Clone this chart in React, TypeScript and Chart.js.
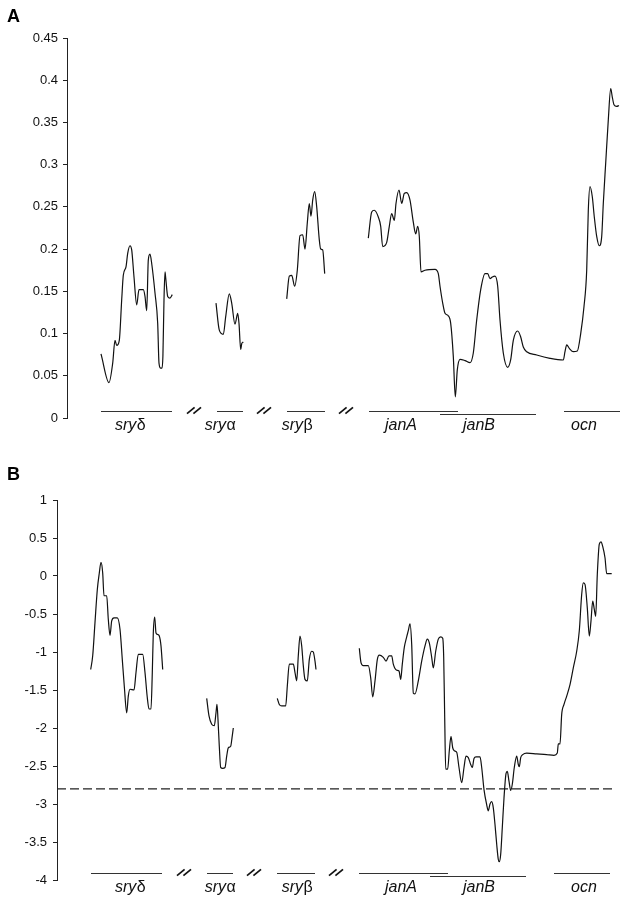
import React, { useEffect, useRef } from 'react';
import { Chart, registerables } from 'chart.js';

Chart.register(...registerables);

// ---------- Panel A : x = window position, y = value ----------
const aSryDelta: [number, number][] = [
  [34, 0.076], [42, 0.042], [45.7, 0.065], [48, 0.092], [49.7, 0.086], [52.3, 0.092], [54.7, 0.14],
  [56.3, 0.169], [59, 0.179], [60.7, 0.195], [63, 0.204], [64.7, 0.199], [67, 0.167], [69.7, 0.134],
  [72, 0.152], [76.3, 0.152], [78, 0.144], [79.7, 0.127], [81.3, 0.187], [83, 0.194], [84.7, 0.183],
  [88, 0.148], [90.7, 0.112], [92, 0.065], [93.7, 0.059], [95, 0.059], [95.9, 0.073], [97, 0.14],
  [98, 0.173], [98.7, 0.166], [100.7, 0.144], [103, 0.142], [105.3, 0.146],
];
const aSryAlpha: [number, number][] = [
  [149, 0.136], [152.3, 0.104], [156.3, 0.099], [158.7, 0.12], [162.3, 0.147], [164.7, 0.136],
  [168, 0.111], [170.7, 0.124], [172, 0.112], [173.7, 0.081], [174.7, 0.088], [176.3, 0.09],
];
const aSryBeta: [number, number][] = [
  [219.7, 0.141], [222.3, 0.168], [224.7, 0.169], [227.7, 0.156], [230.3, 0.175], [233, 0.216],
  [235.7, 0.217], [238, 0.2], [240.3, 0.231], [242.3, 0.254], [244, 0.239], [245.7, 0.258],
  [247.7, 0.268], [249.7, 0.25], [252.3, 0.211], [253.7, 0.2], [255.7, 0.199], [257.7, 0.171],
];
const aJanOcn: [number, number][] = [
  [301.3, 0.213], [304.7, 0.244], [307.3, 0.246], [311.3, 0.238], [313.7, 0.227], [315.7, 0.203],
  [319.7, 0.208], [322.3, 0.227], [324.7, 0.242], [327.3, 0.234], [329, 0.254], [332, 0.27],
  [334.7, 0.254], [337.3, 0.266], [339.7, 0.267], [343, 0.258], [346.3, 0.232], [348.7, 0.218],
  [350.7, 0.227], [352.3, 0.215], [354, 0.173], [358, 0.175], [368, 0.176], [371.3, 0.171],
  [373, 0.156], [375.7, 0.136], [378, 0.124], [381.3, 0.121], [383.7, 0.112], [386.3, 0.073],
  [388.3, 0.025], [390.3, 0.057], [393, 0.0695], [398, 0.068], [403, 0.0655], [406.3, 0.077],
  [409.7, 0.116], [413.7, 0.152], [418, 0.171], [420.7, 0.171], [423, 0.165], [425.3, 0.167],
  [428, 0.168], [430.7, 0.156], [433, 0.116], [436.3, 0.077], [440.7, 0.06], [443.7, 0.069],
  [446.3, 0.092], [450.7, 0.103], [453.7, 0.096], [456.3, 0.084], [459.7, 0.0785], [469.7, 0.0746],
  [483, 0.0707], [496.3, 0.0687], [498, 0.0785], [499.7, 0.0865], [502.3, 0.0825], [506.3, 0.0785],
  [510.3, 0.0793], [513.7, 0.1], [517, 0.132], [519.7, 0.175], [521.3, 0.246], [523, 0.274],
  [525.3, 0.262], [527.3, 0.238], [529.7, 0.215], [532.3, 0.204], [534.7, 0.215], [536.3, 0.254],
  [538.7, 0.302], [541.3, 0.353], [543.7, 0.39], [545.3, 0.38], [547, 0.371], [549.7, 0.369],
  [552, 0.37],
];

// ---------- Panel B ----------
const bSryDelta: [number, number][] = [
  [33.7, -1.23], [35.7, -1.05], [38, -0.61], [40.3, -0.18], [42.3, 0.04], [44, 0.18], [45.7, 0.04],
  [47, -0.26], [49.7, -0.26], [51.3, -0.57], [53, -0.78], [54.7, -0.59], [57, -0.55], [60.3, -0.55],
  [63, -0.7], [65.3, -1.1], [67.3, -1.45], [69.7, -1.8], [71.3, -1.58], [73, -1.49], [77, -1.5],
  [79, -1.27], [81.3, -1.03], [85.7, -1.03], [88, -1.27], [90.3, -1.6], [92, -1.75], [94, -1.75],
  [95.3, -1.27], [96.3, -0.75], [97.7, -0.54], [99, -0.75], [100.7, -0.77], [102.3, -0.79],
  [104, -0.92], [105.7, -1.23],
];
const bSryAlpha: [number, number][] = [
  [149.7, -1.61], [152, -1.84], [154.7, -1.95], [157.3, -1.97], [159, -1.8], [160, -1.69],
  [161, -1.89], [162.3, -2.24], [163.7, -2.52], [165.7, -2.53], [168, -2.52], [169.7, -2.37],
  [171.3, -2.26], [173.7, -2.24], [175, -2.13], [176.3, -2.0],
];
const bSryBeta: [number, number][] = [
  [220.3, -1.61], [222.3, -1.69], [224.7, -1.71], [228.7, -1.71], [230.3, -1.45], [232.3, -1.16],
  [236.3, -1.16], [238, -1.27], [239.7, -1.38], [241.3, -1.05], [243, -0.79], [244.7, -0.92],
  [246.3, -1.18], [248, -1.36], [250.3, -1.38], [252.3, -1.1], [254.7, -0.99], [256.3, -1.0],
  [258, -1.12], [259, -1.23],
];
const bJanOcn: [number, number][] = [
  [302.3, -0.95], [304, -1.14], [306.3, -1.18], [311.3, -1.18], [313.7, -1.34], [315.7, -1.59],
  [318, -1.38], [320.3, -1.1], [322.3, -1.04], [326.3, -1.07], [329, -1.12], [332, -1.05],
  [334.7, -1.05], [336.3, -1.16], [339.7, -1.24], [342, -1.25], [343.7, -1.36], [345.3, -1.16],
  [347.3, -0.94], [349.7, -0.8], [351.3, -0.72], [353, -0.63], [354.7, -0.9], [356.3, -1.54],
  [358, -1.55], [361.3, -1.38], [364.7, -1.12], [368, -0.92], [370.3, -0.83], [372.3, -0.88],
  [374.7, -1.07], [376.3, -1.21], [378.7, -0.99], [381.3, -0.83], [383.7, -0.8], [385.7, -0.82],
  [386.7, -1.07], [387.7, -1.86], [388.7, -2.54], [390.7, -2.54], [392.3, -2.3], [394, -2.11],
  [395.7, -2.26], [397.3, -2.3], [399.7, -2.32], [402, -2.52], [404.7, -2.72], [407, -2.52],
  [409, -2.37], [411.3, -2.39], [413.7, -2.48], [415.3, -2.52], [417, -2.4], [419, -2.38],
  [423, -2.38], [424.7, -2.52], [427, -2.81], [429.7, -3.01], [431.3, -3.09], [433, -3.0],
  [434.7, -2.97], [436.3, -3.05], [438, -3.27], [439.7, -3.53], [441.3, -3.73], [442.3, -3.76],
  [443.7, -3.66], [445.3, -3.31], [447, -2.92], [449, -2.6], [450.3, -2.57], [452, -2.7],
  [453.7, -2.82], [455.3, -2.74], [457.3, -2.52], [459.7, -2.37], [461.3, -2.48], [462.3, -2.51],
  [463.7, -2.39], [465.7, -2.35], [469.7, -2.33], [479.7, -2.34], [489.7, -2.35], [497, -2.36],
  [500.3, -2.33], [501.3, -2.21], [503, -2.21], [504.7, -1.82], [507, -1.69], [509.7, -1.58],
  [513, -1.43], [516.3, -1.21], [519.7, -0.99], [522.3, -0.72], [524.7, -0.24], [526.3, -0.09],
  [528, -0.11], [530.3, -0.42], [532.3, -0.79], [534, -0.59], [535.7, -0.33], [537.3, -0.44],
  [538.7, -0.53], [540.3, 0.02], [542.3, 0.42], [544, 0.45], [545.7, 0.39], [548, 0.24],
  [549.7, 0.03], [554.7, 0.03],
];
const bThreshold = -2.8;
const bThresholdRange = [0, 555];

// ---------- Gene tracks ----------
const geneNames = ['sry', 'sry', 'sry', 'janA', 'janB', 'ocn'];
const geneGreek = ['δ', 'α', 'β', '', '', ''];
const geneStart = [34, 150, 220, 302, 373, 497];
const geneEnd = [105, 176, 258, 391, 469, 553];
const geneRow = [0, 0, 0, 0, 1, 0];
const geneLabelPosA = [63, 153, 230, 334, 412, 517];
const geneLabelPosB = [73, 163, 240, 344, 422, 527];
const breakPos = [127, 197, 279];

// ---------- Axes ----------
const aTicks = { min: 0, max: 0.45, step: 0.05 };
const bTicks = { min: -4, max: 1, step: 0.5 };

const FONT = '"Liberation Sans", Arial, Helvetica, sans-serif';

const geneTrackPlugin = {
  id: 'geneTrack',
  afterDraw(chart: any, _args: any, opts: any) {
    const { ctx, chartArea, scales } = chart;
    const xs = scales.x;
    const bottom = chartArea.bottom;
    ctx.save();
    // gene spans
    ctx.strokeStyle = '#333';
    ctx.lineWidth = 1;
    geneStart.forEach((s, i) => {
      const y = Math.round(bottom - (geneRow[i] ? 4.5 : 7.5)) + 0.5;
      ctx.beginPath();
      ctx.moveTo(xs.getPixelForValue(s), y);
      ctx.lineTo(xs.getPixelForValue(geneEnd[i]), y);
      ctx.stroke();
    });
    // break marks //
    ctx.lineWidth = 1.7;
    ctx.strokeStyle = '#111';
    breakPos.forEach((p) => {
      const cx = xs.getPixelForValue(p);
      const cy = bottom - 7.5;
      for (const dx of [-3.2, 3.2]) {
        ctx.beginPath();
        ctx.moveTo(cx + dx - 3.8, cy + 3.2);
        ctx.lineTo(cx + dx + 3.8, cy - 3.2);
        ctx.stroke();
      }
    });
    // gene labels
    ctx.fillStyle = '#111';
    ctx.textBaseline = 'alphabetic';
    ctx.textAlign = 'left';
    const labelY = bottom + 12;
    geneNames.forEach((name, i) => {
      const itFont = `italic 16px ${FONT}`;
      const upFont = `16px ${FONT}`;
      ctx.font = itFont;
      const w1 = ctx.measureText(name).width;
      ctx.font = upFont;
      const w2 = geneGreek[i] ? ctx.measureText(geneGreek[i]).width : 0;
      const cx = xs.getPixelForValue(opts.labelPos[i]);
      const x0 = cx - (w1 + w2) / 2;
      ctx.font = itFont;
      ctx.fillText(name, x0, labelY);
      if (geneGreek[i]) {
        ctx.font = upFont;
        ctx.fillText(geneGreek[i], x0 + w1 + 0.5, labelY);
      }
    });
    // panel letter
    ctx.font = `bold 18px ${FONT}`;
    ctx.fillStyle = '#000';
    ctx.fillText(opts.letter, 7, opts.letterY);
    ctx.restore();
  },
};

function seg(points: [number, number][]) {
  return {
    data: points.map(([x, y]) => ({ x, y })),
    borderColor: '#111',
    borderWidth: 1.2,
    pointRadius: 0,
    fill: false,
    cubicInterpolationMode: 'monotone' as const,
  };
}

function makeConfig(p: {
  segments: [number, number][][];
  extra?: any[];
  ticks: { min: number; max: number; step: number };
  xMax: number;
  axisWidth: number;
  padTop: number;
  padBottom: number;
  labelPos: number[];
  letter: string;
  letterY: number;
  labelPad: number;
}): any {
  return {
    type: 'line',
    data: { datasets: [...p.segments.map(seg), ...(p.extra || [])] },
    plugins: [geneTrackPlugin],
    options: {
      responsive: false,
      animation: false,
      events: [],
      layout: { padding: { top: p.padTop, bottom: p.padBottom, left: 0, right: 0 } },
      plugins: {
        legend: { display: false },
        tooltip: { enabled: false },
        geneTrack: { labelPos: p.labelPos, letter: p.letter, letterY: p.letterY },
      },
      scales: {
        x: { type: 'linear', min: 0, max: p.xMax, display: false },
        y: {
          min: p.ticks.min,
          max: p.ticks.max,
          ticks: {
            stepSize: p.ticks.step,
            color: '#111',
            padding: p.labelPad,
            font: { size: 13, family: FONT },
            callback: (v: number) => String(parseFloat(Number(v).toFixed(2))),
          },
          grid: { drawOnChartArea: false, drawTicks: true, tickLength: 4, color: '#222', lineWidth: 1 },
          border: { display: true, color: '#222', width: 1 },
          afterFit: (scale: any) => {
            scale.width = p.axisWidth;
          },
        },
      },
    },
  };
}

export default function App() {
  const refA = useRef<HTMLCanvasElement>(null);
  const refB = useRef<HTMLCanvasElement>(null);

  useEffect(() => {
    document.body.style.margin = '0';
    document.body.style.background = '#fff';
    const chartA = new Chart(
      refA.current as HTMLCanvasElement,
      makeConfig({
        segments: [aSryDelta, aSryAlpha, aSryBeta, aJanOcn],
        ticks: aTicks,
        xMax: 553,
        axisWidth: 67,
        padTop: 38,
        padBottom: 42,
        labelPos: geneLabelPosA,
        letter: 'A',
        letterY: 22,
        labelPad: 5,
      })
    );
    const chartB = new Chart(
      refB.current as HTMLCanvasElement,
      makeConfig({
        segments: [bSryDelta, bSryAlpha, bSryBeta, bJanOcn],
        extra: [
          {
            data: bThresholdRange.map((x) => ({ x, y: bThreshold })),
            borderColor: '#222',
            borderWidth: 1.2,
            borderDash: [9, 4],
            pointRadius: 0,
            fill: false,
          },
        ],
        ticks: bTicks,
        xMax: 563,
        axisWidth: 57,
        padTop: 40,
        padBottom: 19,
        labelPos: geneLabelPosB,
        letter: 'B',
        letterY: 20,
        labelPad: 6,
      })
    );
    return () => {
      chartA.destroy();
      chartB.destroy();
    };
  }, []);

  return (
    <div style={{ width: 620, background: '#fff' }}>
      <canvas ref={refA} width={620} height={460} style={{ display: 'block' }} />
      <canvas ref={refB} width={620} height={439} style={{ display: 'block' }} />
    </div>
  );
}
